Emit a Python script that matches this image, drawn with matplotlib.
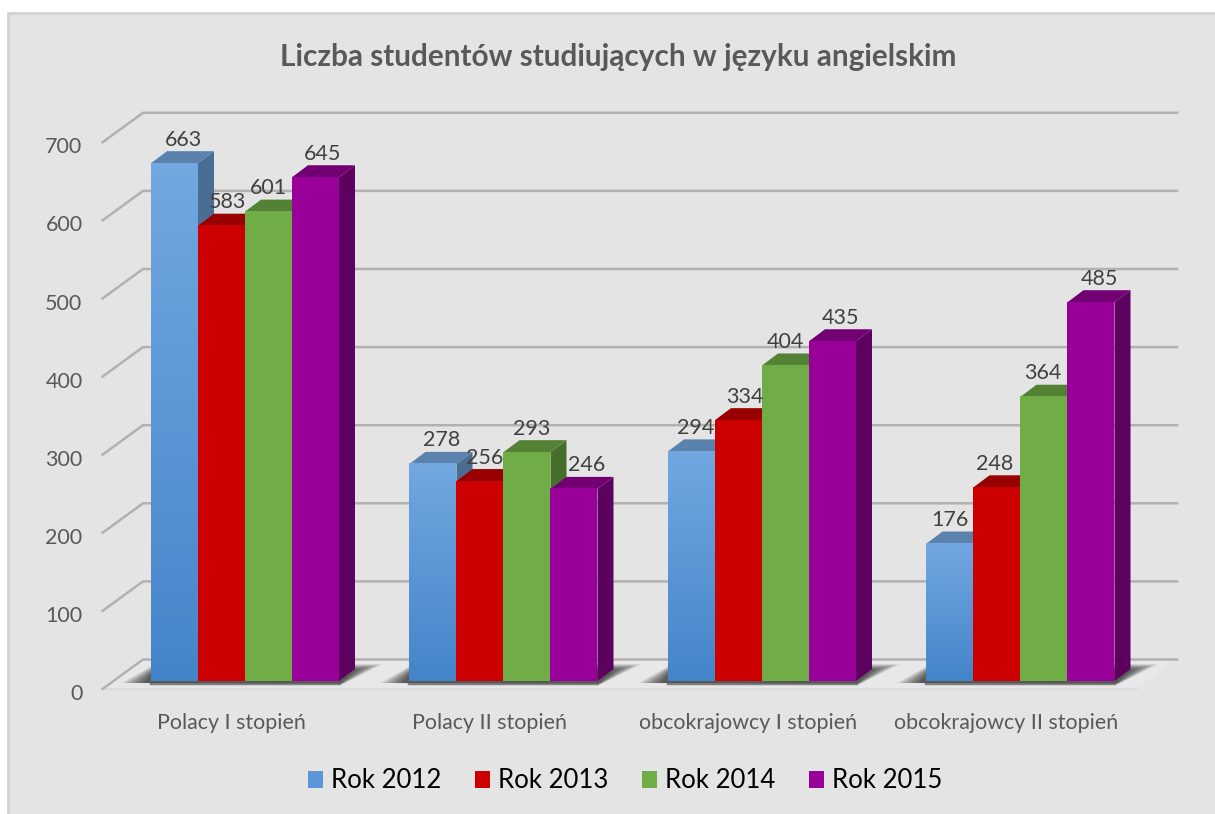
import numpy as np
import matplotlib
matplotlib.use("Agg")
import matplotlib.pyplot as plt
from matplotlib.colors import LinearSegmentedColormap
from matplotlib.patches import Polygon, Rectangle, Patch

plt.rcParams['font.family'] = ['Lato', 'DejaVu Sans']

# dane
categories = ["Polacy I stopień", "Polacy II stopień", "obcokrajowcy I stopień", "obcokrajowcy II stopień"]
series_names = ["Rok 2012", "Rok 2013", "Rok 2014", "Rok 2015"]
rok_2012 = [663, 278, 294, 176]
rok_2013 = [583, 256, 334, 248]
rok_2014 = [601, 293, 404, 364]
rok_2015 = [645, 246, 435, 485]
y_ticks = [0, 100, 200, 300, 400, 500, 600, 700]

# kolory: gora gradientu, dol gradientu, wierzch, bok
colors = [
    ("#72a7e0", "#4485ca", "#5a82ad", "#4a6d94"),
    ("#cc0000", "#cc0000", "#990000", "#8f0000"),
    ("#70ad47", "#70ad47", "#548235", "#466f2c"),
    ("#990099", "#990099", "#730073", "#5e0060"),
]
# przesuniecie etykiet w pikselach
label_shift = [[9, 6, 0, 7], [9, 5, 5, 13], [4, 6, 0, 8], [0, -2, -1, 8]]

W, H = 1215, 814
fig = plt.figure(figsize=(W / 100, H / 100), dpi=100, facecolor="white")

# tlo wykresu
fig.add_artist(Rectangle((8 / W, -0.01), 1.02, (H - 13) / H + 0.01, transform=fig.transFigure,
                         facecolor="#e4e4e4", edgecolor="#d2d2d2", linewidth=2, zorder=-1))

# os: 0 -> y=681 px, 700 -> y=134 px, jedna kategoria = 258.5 px
px_x = 258.5
px_y = (681 - 134.3) / 700
left = 245 - 0.5 * px_x
ax = fig.add_axes([left / W, (H - 681) / H, 4 * px_x / W, (681 - 134.3) / H])
ax.set_xlim(-0.5 + 0, 3.5)
ax.set_ylim(0, 700)
ax.axis("off")


def dx(px):
    return px / px_x


def dy(px):
    return px / px_y


# sciany i podloga
x_front_l = -0.5 + dx(102.5 - left)
x_back_l = -0.5 + dx(143 - left)
x_back_r = -0.5 + dx(1177 - left)
x_front_r = -0.5 + dx(1137 - left)
y_front = dy(-8)
y_back = dy(21.5)
ax.add_patch(Polygon([(x_front_l, y_front), (x_back_l, y_back), (x_back_r, y_back), (x_front_r, y_front)],
                     closed=True, facecolor="#e8e8e8", edgecolor="none", clip_on=False, zorder=1))
ax.plot([x_front_l, x_front_r], [y_front, y_front], color="#dcdcdc", lw=1.5, clip_on=False, zorder=1.5)
for v in y_ticks:
    ax.plot([x_front_l, x_back_l, x_back_r], [v + y_front, v + y_back, v + y_back],
            color="#b4b0b0", lw=1.8, clip_on=False, zorder=2, solid_joinstyle="miter")
    ax.text(x_front_l - dx(20), v + y_front - dy(5), str(v), ha="right", va="center",
            fontsize=15.5, color="#595959", clip_on=False)

bar_w = dx(47)
depth_x = dx(16)
depth_y = dy(12)

# cien pod slupkami
for i in range(4):
    x0 = i - 2 * bar_w
    x1 = i + 2 * bar_w
    for k in range(24):
        g = k / 23
        ax.add_patch(Polygon([(x0 - dx(30 - 24 * g), dy(-2)),
                              (x0 + dx(4), dy(17 - 6 * g)),
                              (x1 + dx(44 - 28 * g), dy(17 - 6 * g)),
                              (x1 + dx(4 - 2 * g), dy(-3 + 1 * g))],
                             closed=True, facecolor="black", edgecolor="none", alpha=0.035,
                             clip_on=False, zorder=2.5))
    ax.plot([x0, x1], [dy(-1.5), dy(-1.5)], color="#555555", lw=2.5, alpha=0.7, clip_on=False, zorder=2.6)

all_series = [rok_2012, rok_2013, rok_2014, rok_2015]
for i in range(4):
    for j in range(4):
        val = all_series[j][i]
        x0 = i - 2 * bar_w + j * bar_w
        x1 = x0 + bar_w
        c_top, c_bot, c_cap, c_side = colors[j]
        z = 3 + j * 0.1
        # bok i wierzch
        ax.add_patch(Polygon([(x1, 0), (x1 + depth_x, depth_y), (x1 + depth_x, val + depth_y), (x1, val)],
                             closed=True, facecolor=c_side, edgecolor="none", zorder=z))
        ax.add_patch(Polygon([(x0, val), (x0 + depth_x, val + depth_y), (x1 + depth_x, val + depth_y), (x1, val)],
                             closed=True, facecolor=c_cap, edgecolor="none", zorder=z))
        # front z gradientem
        cmap = LinearSegmentedColormap.from_list("g", [c_top, c_bot])
        ax.imshow(np.linspace(0, 1, 64).reshape(-1, 1), extent=(x0, x1, 0, val), origin="upper",
                  cmap=cmap, aspect="auto", zorder=z + 0.01, interpolation="bilinear")
        ax.text((x0 + x1) / 2 + dx(label_shift[i][j]), val + depth_y + dy(11.5), str(val), ha="center", va="center",
                fontsize=15.5, color="#404040", zorder=10, clip_on=False)
    ax.text(i - dx(14), dy(-42), categories[i], ha="center", va="center", fontsize=15.4, color="#595959", clip_on=False)

ax.set_xlim(-0.5, 3.5)
ax.set_ylim(0, 700)

fig.text(618 / W, 1 - 57 / H, "Liczba studentów studiujących w języku angielskim", ha="center", va="center",
         fontsize=21.4, fontweight="bold", color="#595959")

handles = [Patch(facecolor=c, edgecolor="none") for c in ["#5b96d8", "#cc0000", "#70ad47", "#990099"]]
fig.legend(handles, series_names, ncol=4, loc="center", bbox_to_anchor=(625 / W, 1 - 781 / H), frameon=False,
           fontsize=18.5, handlelength=0.58, handleheight=0.65, handletextpad=0.3, columnspacing=1.33)

fig.savefig("out.png", dpi=100, facecolor="white")
